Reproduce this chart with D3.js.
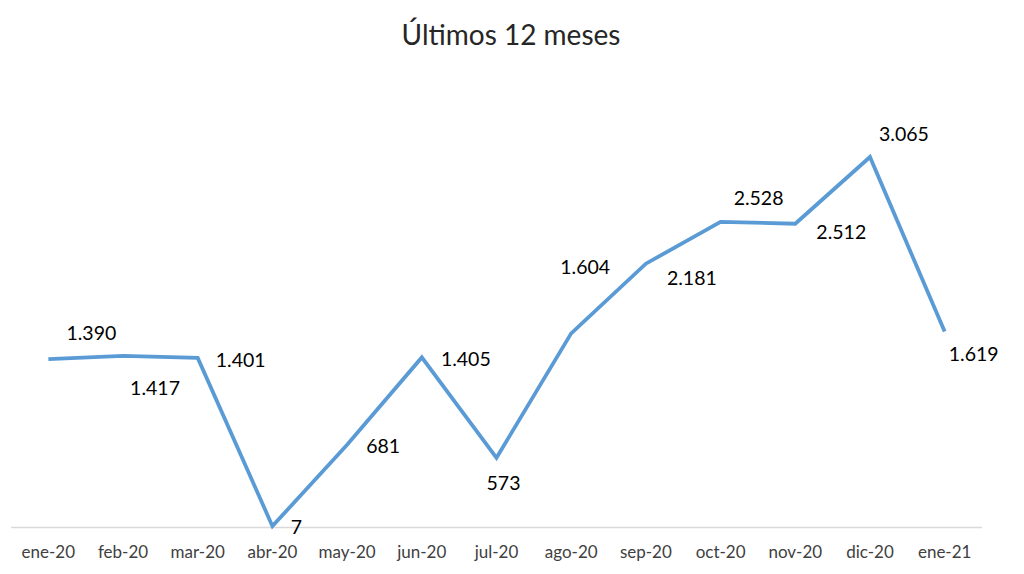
<!DOCTYPE html>
<html><head><meta charset="utf-8">
<script src="https://cdn.jsdelivr.net/npm/d3@7"></script>
<style>html,body{margin:0;padding:0;background:#fff;}svg{display:block;font-family:Lato,"Open Sans",sans-serif;}</style>
</head><body>
<svg id="c" width="1024" height="574"></svg>
<script>
const title = "Últimos 12 meses";
const categories = ["ene-20","feb-20","mar-20","abr-20","may-20","jun-20","jul-20","ago-20","sep-20","oct-20","nov-20","dic-20","ene-21"];
const values = [1390,1417,1401,7,681,1405,573,1604,2181,2528,2512,3065,1619];
// label placement offsets (dx, dy) relative to each point, as Excel placed them
const labelDx = [43,32,43,24,36,44,7,14,46,38,46,34,29];
const labelDy = [-26,32,2,1,1,2,25,-66,14,-24,8,-23,23];

const svg = d3.select("#c");
const x = d3.scaleBand().domain(categories).range([11,982]);
const y = d3.scaleLinear().domain([0,3065]).range([527,157]);
const fmt = v => d3.format(",")(v).replace(/,/g,".");

svg.append("text").attr("x",511).attr("y",45).attr("text-anchor","middle")
  .attr("font-size",28).attr("fill","#262626").text(title);

svg.append("line").attr("x1",11).attr("x2",982).attr("y1",527.5).attr("y2",527.5)
  .attr("stroke","#d9d9d9").attr("stroke-width",1.3);

const xAxis = d3.axisBottom(x).tickSize(0).tickPadding(0);
const gx = svg.append("g").attr("transform","translate(0,546)").call(xAxis);
gx.select(".domain").remove();
gx.selectAll("text").attr("font-size",17).attr("fill","#404040").attr("font-family","Lato,'Open Sans',sans-serif");

const cx = d => x(d) + x.bandwidth()/2;
const line = d3.line().x((d,i)=>cx(categories[i])).y(d=>y(d));
svg.append("path").datum(values).attr("d",line).attr("fill","none")
  .attr("stroke","#5b9bd5").attr("stroke-width",3.8).attr("stroke-linejoin","miter");

svg.selectAll("text.lbl").data(values).enter().append("text").attr("class","lbl")
  .attr("x",(d,i)=>cx(categories[i])+labelDx[i])
  .attr("y",(d,i)=>y(d)+labelDy[i])
  .attr("dy","0.35em").attr("text-anchor","middle")
  .attr("font-size",19.5).attr("fill","#000").text(fmt);
</script>
</body></html>
